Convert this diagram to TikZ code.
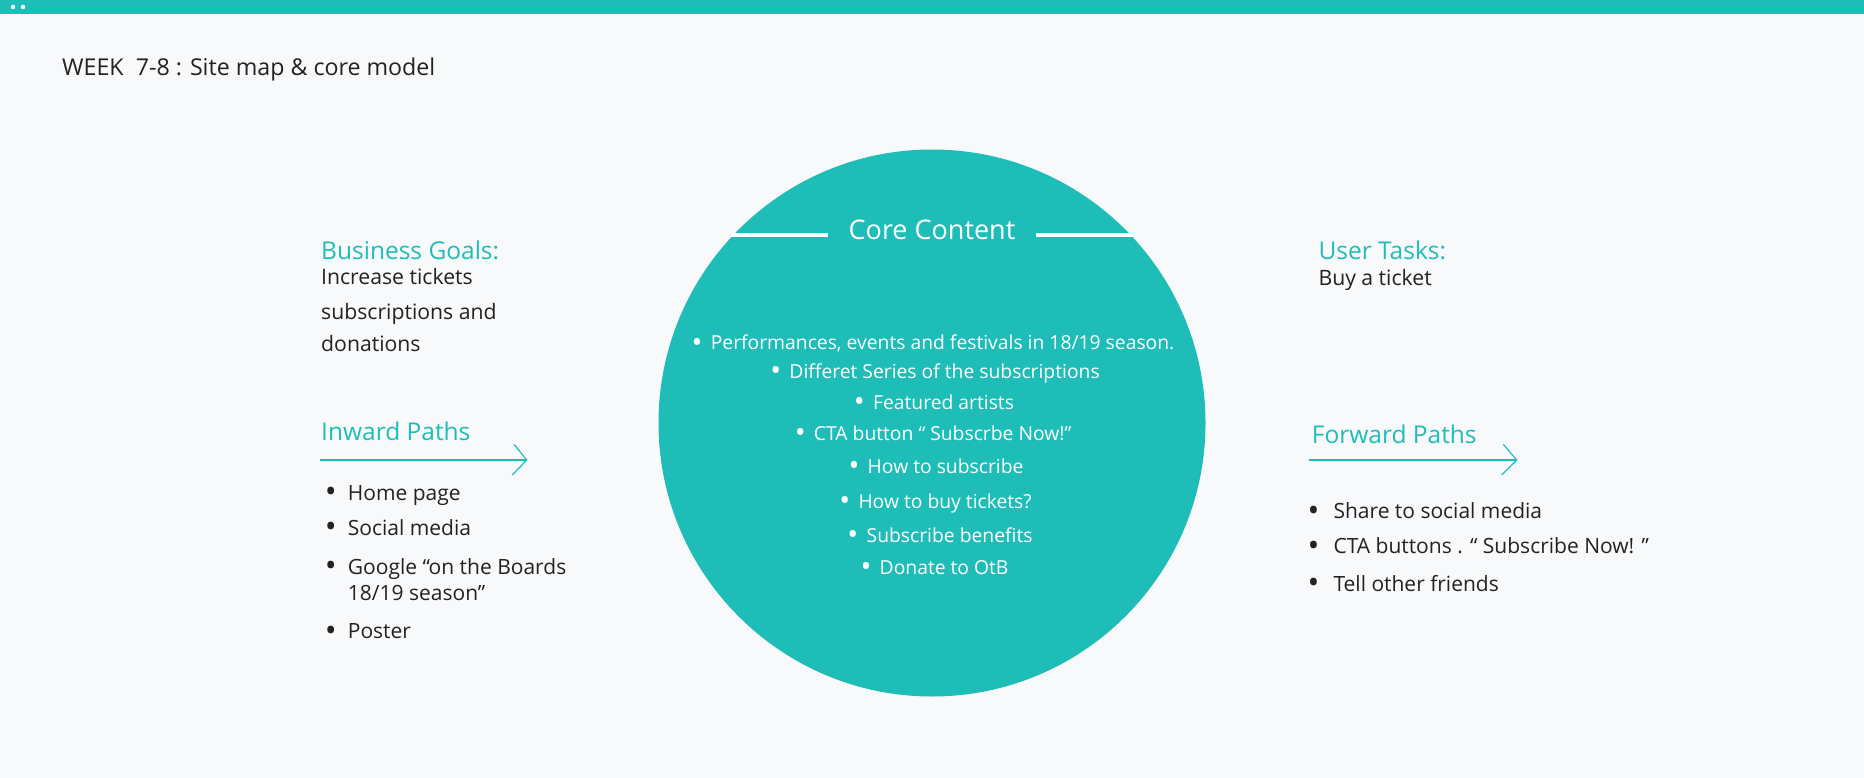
\documentclass[tikz,border=0pt]{standalone}
\usepackage{fontspec}
\setmainfont{Open Sans}
\definecolor{tealc}{RGB}{31,189,184}
\definecolor{ink}{RGB}{34,34,34}
\definecolor{bgc}{RGB}{248,249,251}
\newcommand{\bdot}{\raisebox{-0.14em}{\scalebox{1.5}{\textbullet}}}
\newcommand{\cbul}{\bdot\hspace{0.43em}}
\newcommand{\lbul}[1]{\llap{\bdot\hspace{#1}}}
\tikzset{
  txt/.style={anchor=base west, inner sep=0pt, text=ink, font=\fontsize{21.2}{25}\selectfont},
  lst/.style={anchor=base west, inner sep=0pt, text=ink, font=\fontsize{21}{25}\selectfont},
  head/.style={anchor=base west, inner sep=0pt, text=tealc, font=\fontsize{24.5}{29}\selectfont},
  ctext/.style={anchor=base, inner sep=0pt, text=white, font=\fontsize{19.3}{23}\selectfont},
  pathline/.style={draw=tealc, line width=1.2pt},
  corebar/.style={draw=white, line width=4pt}
}
\begin{document}
\begin{tikzpicture}[x=1pt,y=-1pt]
\useasboundingbox (0,0) rectangle (1864,778);
\fill[bgc] (0,0) rectangle (1864,778);
\fill[tealc] (0,0) rectangle (1864,14);
\fill[white] (13,7) circle[radius=2.3pt];
\fill[white] (23,7) circle[radius=2.3pt];

\node[anchor=base west, inner sep=0pt, text=ink, font=\fontsize{23.2}{28}\selectfont] (title) at (62,76) {WEEK\ \ 7-8 : Site map \& core model};

% core circle
\node[circle, fill=tealc, minimum size=547pt, inner sep=0pt] (core) at (932,423) {};
\coordinate (b1a) at (731.4,234.7); \coordinate (b1b) at (827.5,234.7);
\coordinate (b2a) at (1036,234.7); \coordinate (b2b) at (1132,234.7);
\draw[corebar] (b1a) -- (b1b);
\draw[corebar] (b2a) -- (b2b);
\node[anchor=base, inner sep=0pt, text=white, font=\fontsize{27}{32}\selectfont] (coretitle) at (932,239.3) {Core Content};

\node[ctext] (c1) at (933,349.3) {\cbul Performances, events and festivals in 18/19 season.};
\node[ctext] (c2) at (935,378) {\cbul Differet Series of the subscriptions};
\node[ctext] (c3) at (934,409) {\cbul Featured artists};
\node[ctext] (c4) at (933,440) {\cbul CTA button “ Subscrbe Now!”};
\node[ctext] (c5) at (936,473) {\cbul How to subscribe};
\node[ctext] (c6) at (935.5,508) {\cbul How to buy tickets?};
\node[ctext] (c7) at (940,542) {\cbul Subscribe benefits};
\node[ctext] (c8) at (934.5,574) {\cbul Donate to OtB};

% left side
\node[head] (bg) at (321,260) {Business Goals:};
\node[txt] (bg1) at (321,284.3) {Increase tickets};
\node[txt] (bg2) at (321,319.3) {subscriptions and};
\node[txt] (bg3) at (321,351) {donations};

\node[head] (ip) at (321,440) {Inward Paths};
\coordinate (ipa) at (320,460); \coordinate (ipb) at (526.7,460);
\coordinate (ipt) at (514,444.3); \coordinate (ipd) at (512.3,475);
\draw[pathline] (ipa) -- (ipb);
\draw[pathline] (ipt) -- (ipb) -- (ipd);
\node[lst] (ip1) at (347.7,500) {\lbul{0.53em}Home page};
\node[lst] (ip2) at (347.7,535) {\lbul{0.53em}Social media};
\node[lst] (ip3) at (347.7,574) {\lbul{0.53em}Google “on the Boards};
\node[lst] (ip3b) at (347.7,600) {18/19 season”};
\node[lst] (ip4) at (347.7,638.3) {\lbul{0.53em}Poster};

% right side
\node[head] (ut) at (1318.3,260) {User Tasks:};
\node[txt] (ut1) at (1318.3,285) {Buy a ticket};

\node[head] (fp) at (1311.7,443.3) {Forward Paths};
\coordinate (fpa) at (1309,460); \coordinate (fpb) at (1516.7,460);
\coordinate (fpt) at (1503.3,444.3); \coordinate (fpd) at (1501.7,475);
\draw[pathline] (fpa) -- (fpb);
\draw[pathline] (fpt) -- (fpb) -- (fpd);
\node[lst] (fp1) at (1333.3,518.3) {\lbul{0.67em}Share to social media};
\node[lst] (fp2) at (1333.3,553.3) {\lbul{0.67em}CTA buttons . “ Subscribe Now! ”};
\node[lst] (fp3) at (1333.3,591) {\lbul{0.67em}Tell other friends};
\end{tikzpicture}
\end{document}
